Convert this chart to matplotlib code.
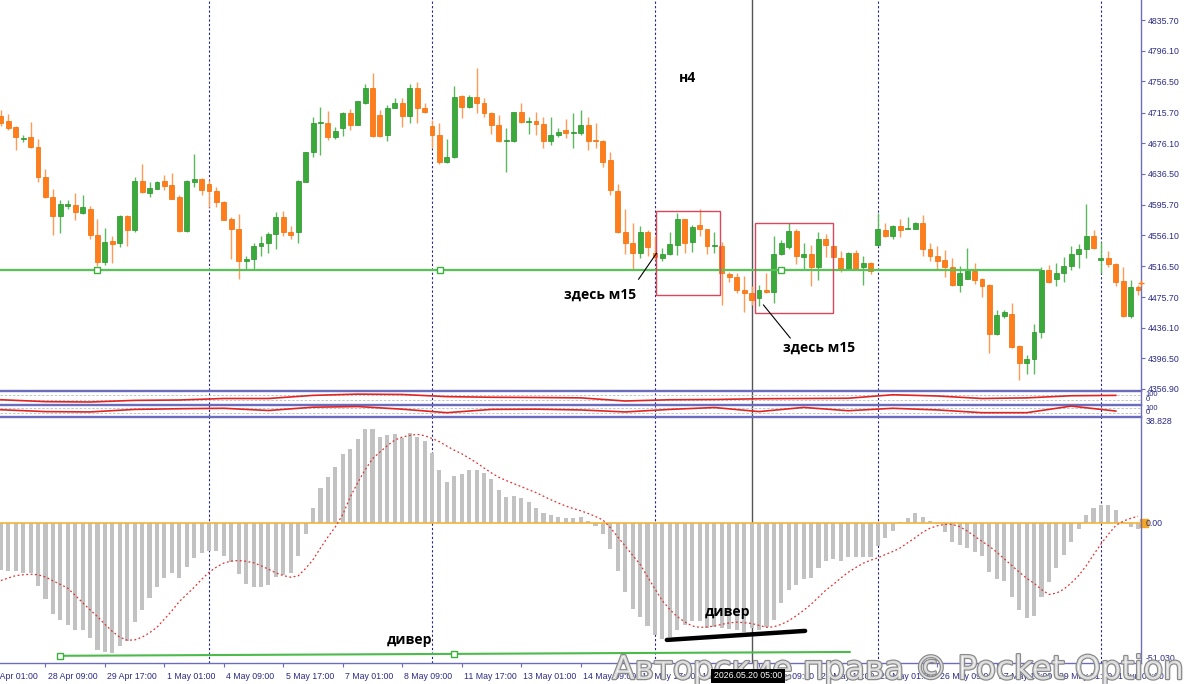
import numpy as np
import matplotlib.pyplot as plt
import matplotlib.transforms as mtransforms
import matplotlib.patheffects as pe
from matplotlib.patches import Rectangle

plt.rcParams['font.family'] = ['Liberation Sans', 'DejaVu Sans']

W, H = 1200, 684
RIGHT = 1141  # px, right edge of plot area

# H4 candles (index 0 = first visible bar)
opens = [4711, 4705, 4697, 4681, 4684, 4671, 4632, 4606, 4581, 4595,
         4596, 4585, 4591, 4557, 4522, 4549, 4546, 4581, 4563, 4627,
         4611, 4617, 4627, 4622, 4606, 4562, 4626, 4630, 4623, 4614,
         4600, 4577, 4565, 4523, 4525, 4542, 4546, 4558, 4580, 4561,
         4560, 4626, 4664, 4702, 4702, 4684, 4696, 4715, 4700, 4728,
         4747, 4712, 4686, 4722, 4728, 4711, 4748, 4721, 4698, 4687,
         4652, 4658, 4737, 4723, 4736, 4728, 4715, 4700, 4679, 4679,
         4716, 4703, 4705, 4701, 4679, 4686, 4693, 4689, 4689, 4700,
         4680, 4679, 4654, 4614, 4560, 4547, 4534, 4561, 4534, 4527,
         4532, 4544, 4577, 4548, 4570, 4564, 4542, 4543, 4506, 4502,
         4485, 4482, 4475, 4486, 4483, 4532, 4541, 4562, 4528, 4532,
         4515, 4552, 4543, 4527, 4512, 4533, 4515, 4520, 4544, 4563,
         4555, 4568, 4565, 4565, 4572, 4538, 4529, 4524, 4515, 4492,
         4499, 4510, 4499, 4492, 4428, 4451, 4454, 4413, 4390, 4396,
         4431, 4511, 4499, 4508, 4517, 4532, 4538, 4555, 4524, 4527,
         4519, 4497, 4451, 4489]
highs = [4719, 4714, 4698, 4687, 4703, 4681, 4643, 4617, 4602, 4602,
         4611, 4609, 4594, 4578, 4566, 4556, 4583, 4583, 4632, 4649,
         4626, 4627, 4635, 4637, 4609, 4628, 4662, 4631, 4628, 4619,
         4601, 4580, 4584, 4529, 4546, 4555, 4561, 4587, 4588, 4568,
         4628, 4665, 4710, 4723, 4718, 4697, 4717, 4720, 4731, 4753,
         4767, 4719, 4725, 4734, 4735, 4753, 4755, 4728, 4706, 4702,
         4681, 4750, 4738, 4738, 4774, 4734, 4717, 4713, 4695, 4717,
         4728, 4710, 4716, 4710, 4710, 4695, 4707, 4715, 4719, 4710,
         4702, 4680, 4665, 4623, 4590, 4572, 4568, 4563, 4555, 4540,
         4561, 4585, 4578, 4570, 4590, 4565, 4560, 4548, 4509, 4507,
         4504, 4491, 4492, 4507, 4555, 4550, 4572, 4565, 4546, 4544,
         4560, 4558, 4544, 4536, 4535, 4537, 4529, 4522, 4585, 4572,
         4570, 4578, 4580, 4573, 4583, 4547, 4542, 4537, 4527, 4516,
         4540, 4520, 4501, 4493, 4459, 4460, 4468, 4414, 4401, 4441,
         4515, 4518, 4521, 4528, 4542, 4545, 4597, 4563, 4548, 4536,
         4521, 4515, 4498, 4492]
lows = [4698, 4693, 4667, 4677, 4669, 4626, 4605, 4557, 4559, 4591,
        4576, 4584, 4552, 4516, 4518, 4520, 4541, 4542, 4561, 4611,
        4606, 4616, 4615, 4603, 4561, 4561, 4619, 4609, 4593, 4593,
        4576, 4526, 4500, 4511, 4513, 4529, 4534, 4539, 4555, 4552,
        4547, 4625, 4658, 4661, 4680, 4681, 4685, 4693, 4699, 4727,
        4684, 4684, 4679, 4721, 4697, 4702, 4702, 4715, 4670, 4649,
        4650, 4657, 4708, 4721, 4715, 4710, 4688, 4678, 4639, 4677,
        4702, 4688, 4687, 4669, 4674, 4684, 4683, 4669, 4686, 4667,
        4669, 4645, 4609, 4559, 4532, 4511, 4527, 4529, 4524, 4523,
        4531, 4531, 4533, 4535, 4555, 4532, 4533, 4466, 4496, 4481,
        4457, 4466, 4464, 4482, 4468, 4531, 4539, 4519, 4512, 4490,
        4498, 4528, 4526, 4509, 4511, 4511, 4492, 4506, 4542, 4554,
        4551, 4554, 4564, 4564, 4529, 4523, 4512, 4502, 4491, 4483,
        4499, 4493, 4476, 4403, 4427, 4449, 4410, 4369, 4376, 4376,
        4423, 4495, 4491, 4496, 4511, 4514, 4527, 4538, 4507, 4515,
        4491, 4450, 4449, 4479]
closes = [4702, 4696, 4684, 4682, 4671, 4632, 4606, 4581, 4597, 4597,
          4586, 4593, 4557, 4522, 4548, 4545, 4581, 4563, 4627, 4612,
          4618, 4625, 4620, 4604, 4562, 4627, 4630, 4615, 4614, 4599,
          4576, 4564, 4523, 4525, 4542, 4547, 4558, 4580, 4560, 4557,
          4627, 4665, 4702, 4703, 4684, 4692, 4715, 4700, 4730, 4747,
          4685, 4685, 4722, 4728, 4711, 4748, 4721, 4716, 4687, 4652,
          4658, 4736, 4723, 4736, 4728, 4715, 4700, 4679, 4680, 4716,
          4703, 4704, 4701, 4679, 4687, 4690, 4689, 4690, 4700, 4679,
          4679, 4652, 4615, 4560, 4546, 4534, 4561, 4541, 4528, 4532,
          4545, 4577, 4547, 4567, 4564, 4543, 4543, 4507, 4502, 4485,
          4482, 4473, 4486, 4483, 4532, 4546, 4562, 4529, 4532, 4515,
          4552, 4544, 4528, 4512, 4533, 4513, 4520, 4510, 4564, 4555,
          4568, 4563, 4566, 4572, 4538, 4529, 4523, 4515, 4492, 4508,
          4510, 4498, 4491, 4428, 4453, 4457, 4412, 4390, 4396, 4431,
          4511, 4496, 4508, 4517, 4532, 4538, 4555, 4540, 4527, 4519,
          4496, 4451, 4489, 4486]

macd_hist = [-17.0, -17.4, -17.6, -18.3, -18.3, -22.9, -27.6, -33.1, -35.5, -37.3,
             -39.0, -39.0, -42.0, -46.3, -46.9, -47.5, -44.7, -43.0, -36.2, -31.7,
             -27.4, -23.4, -19.8, -18.3, -19.8, -15.8, -12.8, -11.0, -10.1, -10.1,
             -11.8, -14.0, -18.5, -22.3, -23.4, -23.4, -22.5, -19.5, -18.9, -18.0,
             -11.8, -3.9, 5.5, 13.0, 17.0, 20.5, 25.2, 27.2, 30.7, 34.3,
             34.3, 31.7, 32.3, 32.6, 31.3, 32.9, 31.7, 30.1, 25.8, 19.5,
             15.2, 17.3, 18.0, 19.5, 19.5, 18.5, 16.1, 12.2, 9.7, 10.0,
             9.1, 7.9, 5.5, 3.7, 3.0, 2.2, 1.8, 1.8, 2.2, 0.9,
             -0.9, -3.9, -9.4, -17.4, -25.0, -31.3, -34.1, -37.5, -40.8, -42.3,
             -41.4, -39.0, -37.1, -35.7, -35.7, -38.1, -37.8, -38.4, -38.6, -39.0,
             -39.6, -38.4, -39.0, -37.8, -35.3, -29.2, -24.4, -22.5, -20.5, -19.8,
             -16.2, -13.6, -13.2, -13.6, -12.2, -12.4, -12.4, -12.4, -8.3, -5.5,
             -2.7, 0.3, 1.8, 3.7, 2.4, 0.9, -0.3, -3.3, -6.7, -7.9,
             -8.9, -10.4, -11.8, -17.7, -20.5, -20.9, -26.8, -31.7, -34.7, -33.9,
             -26.8, -21.3, -16.4, -11.6, -6.7, -2.2, 3.0, 5.5, 6.7, 6.7,
             4.9, 0.6, -1.5, -2.2]
macd_signal = [-20.9, -20.0, -19.1, -18.8, -18.6, -18.8, -19.6, -21.0, -22.3, -23.7,
               -26.3, -29.0, -31.6, -34.1, -36.9, -39.5, -41.6, -42.7, -42.6, -41.6,
               -40.0, -38.0, -35.0, -32.0, -28.6, -26.0, -23.4, -20.5, -17.9, -16.0,
               -14.5, -13.8, -13.6, -13.9, -14.4, -15.5, -16.8, -18.1, -19.1, -19.7,
               -19.2, -16.5, -13.3, -9.0, -5.0, -1.3, 3.2, 9.6, 14.8, 19.5,
               23.6, 26.0, 28.4, 30.4, 31.5, 32.1, 32.5, 32.0, 31.0, 29.8,
               28.2, 26.7, 25.4, 23.8, 22.1, 20.2, 18.4, 16.8, 15.6, 14.5,
               13.4, 12.3, 11.2, 9.9, 8.6, 7.4, 6.3, 5.4, 4.6, 3.6,
               2.5, 1.2, -1.6, -5.0, -8.3, -11.7, -15.0, -19.5, -24.0, -28.3,
               -31.5, -34.1, -36.0, -37.5, -38.0, -37.9, -37.5, -36.9, -36.4, -36.1,
               -36.3, -36.6, -37.3, -38.0, -37.8, -36.9, -35.6, -33.8, -31.8, -29.6,
               -27.0, -24.4, -22.3, -20.0, -17.9, -16.2, -14.6, -13.5, -12.6, -11.4,
               -10.3, -9.0, -7.1, -5.3, -3.3, -1.8, -0.9, -0.4, -0.4, -1.2,
               -2.8, -4.7, -6.6, -8.4, -10.6, -13.0, -15.4, -17.8, -20.1, -21.9,
               -24.2, -26.0, -25.5, -24.1, -21.8, -19.1, -15.6, -11.5, -7.6, -4.0,
               -0.8, 0.8, 1.8, 2.6]

# two small oscillator strips (0..100), sampled every 6 bars
osc_idx = [0, 6, 12, 18, 24, 30, 36, 42, 48, 54, 60, 66, 72,
           78, 84, 90, 96, 102, 108, 114, 120, 126, 132, 138, 144, 150]
osc_a = [30, 15, 12, 25, 28, 40, 40, 65, 75, 72, 55, 50, 48,
         45, 20, 30, 32, 38, 40, 42, 70, 60, 40, 45, 62, 65]
osc_b = [57, 40, 37, 60, 66, 70, 50, 80, 86, 62, 30, 60, 62,
         55, 37, 60, 77, 40, 78, 48, 70, 55, 30, 30, 90, 45]

price_ticks = [4835.70, 4796.10, 4756.50, 4715.70, 4676.10, 4636.50, 4595.70,
               4556.10, 4516.50, 4475.70, 4436.10, 4396.50, 4356.90]
date_idx = [-2, 6, 14, 22, 30, 38, 46, 54, 62, 70, 78, 86, 94, 102, 110, 118, 126, 134, 142, 150]
date_labels = ['27 Apr 01:00', '28 Apr 09:00', '29 Apr 17:00', '1 May 01:00', '4 May 09:00',
               '5 May 17:00', '7 May 01:00', '8 May 09:00', '11 May 17:00', '13 May 01:00',
               '14 May 09:00', '15 May 17:00', '19 May 01:00', '20 May 09:00', '21 May 17:00',
               '25 May 01:00', '26 May 09:00', '27 May 17:00', '29 May 01:00', '1 Jun 09:00']
week_sep = [28, 58, 88, 118, 148]
cursor_idx = 101

AX = '#6c6cbc'
TXT = '#2b2b86'
BULL, BULL_E, BULL_W = '#3aab3a', '#2a912a', '#5cb85c'
BEAR, BEAR_E, BEAR_W = '#ff7d1a', '#ee6c05', '#ff9b55'
XL = (-0.117, 153.39)

fig = plt.figure(figsize=(W / 100, H / 100), dpi=100)


def px_axes(top, bottom):
    return fig.add_axes([0, 1 - bottom / H, RIGHT / W, (bottom - top) / H])


def style(a, top=False):
    a.set_facecolor('white')
    a.spines['left'].set_visible(False)
    a.spines['top'].set_visible(top)
    for s in ('right', 'bottom', 'top'):
        a.spines[s].set_color(AX)
        a.spines[s].set_linewidth(1.0)
    a.set_xlim(*XL)
    a.tick_params(axis='x', bottom=False, labelbottom=False)
    a.yaxis.tick_right()
    a.tick_params(axis='y', colors=AX, labelcolor=TXT, labelsize=6.3, length=3, pad=2)
    for i in week_sep:
        a.axvline(i, color='#24248c', lw=0.8, ls=(0, (2, 2)), zorder=1)
    a.axvline(cursor_idx, color='#555555', lw=1.0, zorder=1)


ax = px_axes(0, 390)
ax_a = px_axes(391, 403.5)
ax_b = px_axes(405, 416)
ax_m = px_axes(417, 663)
style(ax)
style(ax_a, top=True)
style(ax_b, top=True)
style(ax_m, top=True)

# ---- candles ----
x = np.arange(len(opens))
o, h, l, c = map(np.array, (opens, highs, lows, closes))
up = c >= o
ax.vlines(x, l, h, colors=np.where(up, BULL_W, BEAR_W), lw=1.0, zorder=3)
ax.bar(x, np.maximum(np.abs(c - o), 1.3), bottom=np.minimum(o, c), width=0.66,
       color=np.where(up, BULL, BEAR), edgecolor=np.where(up, BULL_E, BEAR_E),
       linewidth=0.5, zorder=4)
ax.set_ylim(4355.6, 4861.7)
ax.set_yticks(price_ticks)
ax.set_yticklabels(['%.2f' % p for p in price_ticks])

# horizontal level + anchors
ax.plot([XL[0], 139.8], [4510.7, 4510.7], color='#55c455', lw=1.6, zorder=5)
ax.plot([12.9, 59.1, 105.0], [4510.7] * 3, ls='none', marker='s', ms=4,
        mfc='white', mec='#3cb03c', mew=1.0, zorder=6)

# boxes and notes
for x0, y0, w, hh in [(88.1, 4479.0, 8.7, 109.3), (101.4, 4455.3, 10.6, 116.7)]:
    ax.add_patch(Rectangle((x0, y0), w, hh, fill=False, ec='#d8475b', lw=1.0, zorder=6))
bold = dict(family=['Open Sans', 'DejaVu Sans'], fontweight='bold', fontsize=10, color='black')
ax.text(92.4, 4760, 'н4', ha='center', va='center', **bold)
ax.text(80.6, 4479, 'здесь м15', ha='center', va='center', **bold)
ax.text(110.1, 4410, 'здесь м15', ha='center', va='center', **bold)
ax.plot([85.8, 88.2], [4499.4, 4533.0], color='black', lw=0.8, zorder=7)
ax.plot([102.6, 106.2], [4465.9, 4423.1], color='black', lw=0.8, zorder=7)
ax.plot([XL[1]], [4494], marker='+', color=BEAR, ms=5, clip_on=False, zorder=8)

# ---- oscillator strips ----
for a, vals in ((ax_a, osc_a), (ax_b, osc_b)):
    a.set_ylim(0, 100)
    a.set_yticks([])
    for lev in (30, 70):
        a.axhline(lev, color='#bbbbbb', lw=0.6, ls=(0, (3, 2)))
    a.plot(osc_idx, vals, color='#e02424', lw=1.2, zorder=3)
    tr = mtransforms.blended_transform_factory(a.transAxes, a.transAxes)
    a.text(1.004, 0.7, '100', transform=tr, fontsize=5.5, color=TXT, va='center')
    a.text(1.004, 0.3, '0', transform=tr, fontsize=5.5, color=TXT, va='center')

# ---- MACD ----
ax_m.bar(x, macd_hist, width=0.55, color='#c2c2c2', zorder=2)
ax_m.plot(x, macd_signal, color='#e03434', lw=0.9, ls=(0, (1.5, 2)), zorder=4)
ax_m.axhline(0, color='#f4b43a', lw=1.2, zorder=3)
ax_m.set_ylim(-51.03, 38.828)
ax_m.set_yticks([])
trm = mtransforms.blended_transform_factory(ax_m.transAxes, ax_m.transData)
ax_m.text(1.004, 38.828, '38.828', transform=trm, fontsize=6.3, color=TXT, va='top')
ax_m.plot([1.0025], [0], transform=trm, marker='s', ms=6, color='#f5a623', clip_on=False)
ax_m.text(1.004, 0, '0.00', transform=trm, fontsize=6.3, color=TXT, va='center')
ax_m.text(1.004, -49.5, '-51.030', transform=trm, fontsize=6.3, color=TXT, va='center')

ax_m.plot([7.96, 114.2], [-48.4, -47.0], color='#4cbb4c', lw=1.5, zorder=5)
ax_m.plot([7.96, 61.0], [-48.4, -47.7], ls='none', marker='s', ms=4,
          mfc='white', mec='#3cb03c', mew=1.0, zorder=6)
ax_m.plot([89.6, 108.2], [-42.6, -39.3], color='black', lw=3.2, solid_capstyle='round', zorder=6)
ax_m.text(55.0, -42.6, 'дивер', ha='center', va='center', **bold)
ax_m.text(97.7, -32.4, 'дивер', ha='center', va='center', **bold)

# date axis
ax_m.set_xticks(date_idx[1:])
ax_m.tick_params(axis='x', bottom=True, length=3, color=AX, labelbottom=False)
trx = mtransforms.blended_transform_factory(ax_m.transData, ax_m.transAxes)
for i, lab in zip(date_idx, date_labels):
    ax_m.text(i + 0.3, -0.053, lab, transform=trx, fontsize=6.3, color=TXT,
              ha='left', va='center', clip_on=False)

fig.text(898 / W, 1 - 679 / H, 'Авторские права © Pocket Option', fontsize=23.5,
         family=['DejaVu Sans'], color=(1, 1, 1, 0.45), ha='center', va='baseline', zorder=30,
         path_effects=[pe.withStroke(linewidth=1.8, foreground='#8a8a8a'), pe.Normal()])

fig.text(748 / W, 1 - 676 / H, '2026.05.20 05:00', fontsize=6.3, color='white',
         ha='center', va='center', zorder=40,
         bbox=dict(facecolor='black', edgecolor='none', pad=2.0))

fig.savefig('out.png', dpi=100)
